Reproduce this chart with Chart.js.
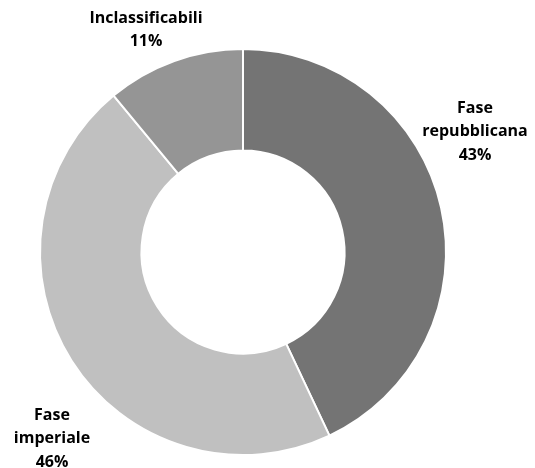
<!DOCTYPE html>
<html>
<head>
<meta charset="utf-8">
<script src="https://cdn.jsdelivr.net/npm/chart.js@4"></script>
<style>
html,body{margin:0;padding:0;background:#fff;}
#wrap{width:535px;height:468px;position:relative;}
</style>
</head>
<body>
<div id="wrap"><canvas id="c" width="535" height="468"></canvas></div>
<script>
const categories = ["Fase repubblicana", "Fase imperiale", "Inclassificabili"];
const labelLines = [["Fase", "repubblicana"], ["Fase", "imperiale"], ["Inclassificabili"]];
const values = [43, 46, 11];
const colors = ["#747474", "#c0c0c0", "#959595"];
const labelPos = [[475, 108], [52, 415], [146, 18]];

const labelPlugin = {
  id: 'sliceLabels',
  afterDraw(chart) {
    const ctx = chart.ctx;
    ctx.save();
    ctx.font = 'bold 16px "Open Sans", sans-serif';
    ctx.fillStyle = '#000';
    ctx.textAlign = 'center';
    ctx.textBaseline = 'middle';
    values.forEach((v, i) => {
      const lines = labelLines[i].concat([v + '%']);
      const [x, y] = labelPos[i];
      lines.forEach((t, j) => ctx.fillText(t, x, y + j * 23.5));
    });
    ctx.restore();
  }
};

new Chart(document.getElementById('c'), {
  type: 'doughnut',
  data: {
    labels: categories,
    datasets: [{
      data: values,
      backgroundColor: colors,
      borderColor: '#ffffff',
      borderWidth: 2,
      hoverOffset: 0
    }]
  },
  options: {
    responsive: false,
    animation: false,
    cutout: '50%',
    layout: { padding: { top: 48, bottom: 12, left: 39, right: 88 } },
    plugins: { legend: { display: false }, tooltip: { enabled: false } }
  },
  plugins: [labelPlugin]
});
</script>
</body>
</html>
